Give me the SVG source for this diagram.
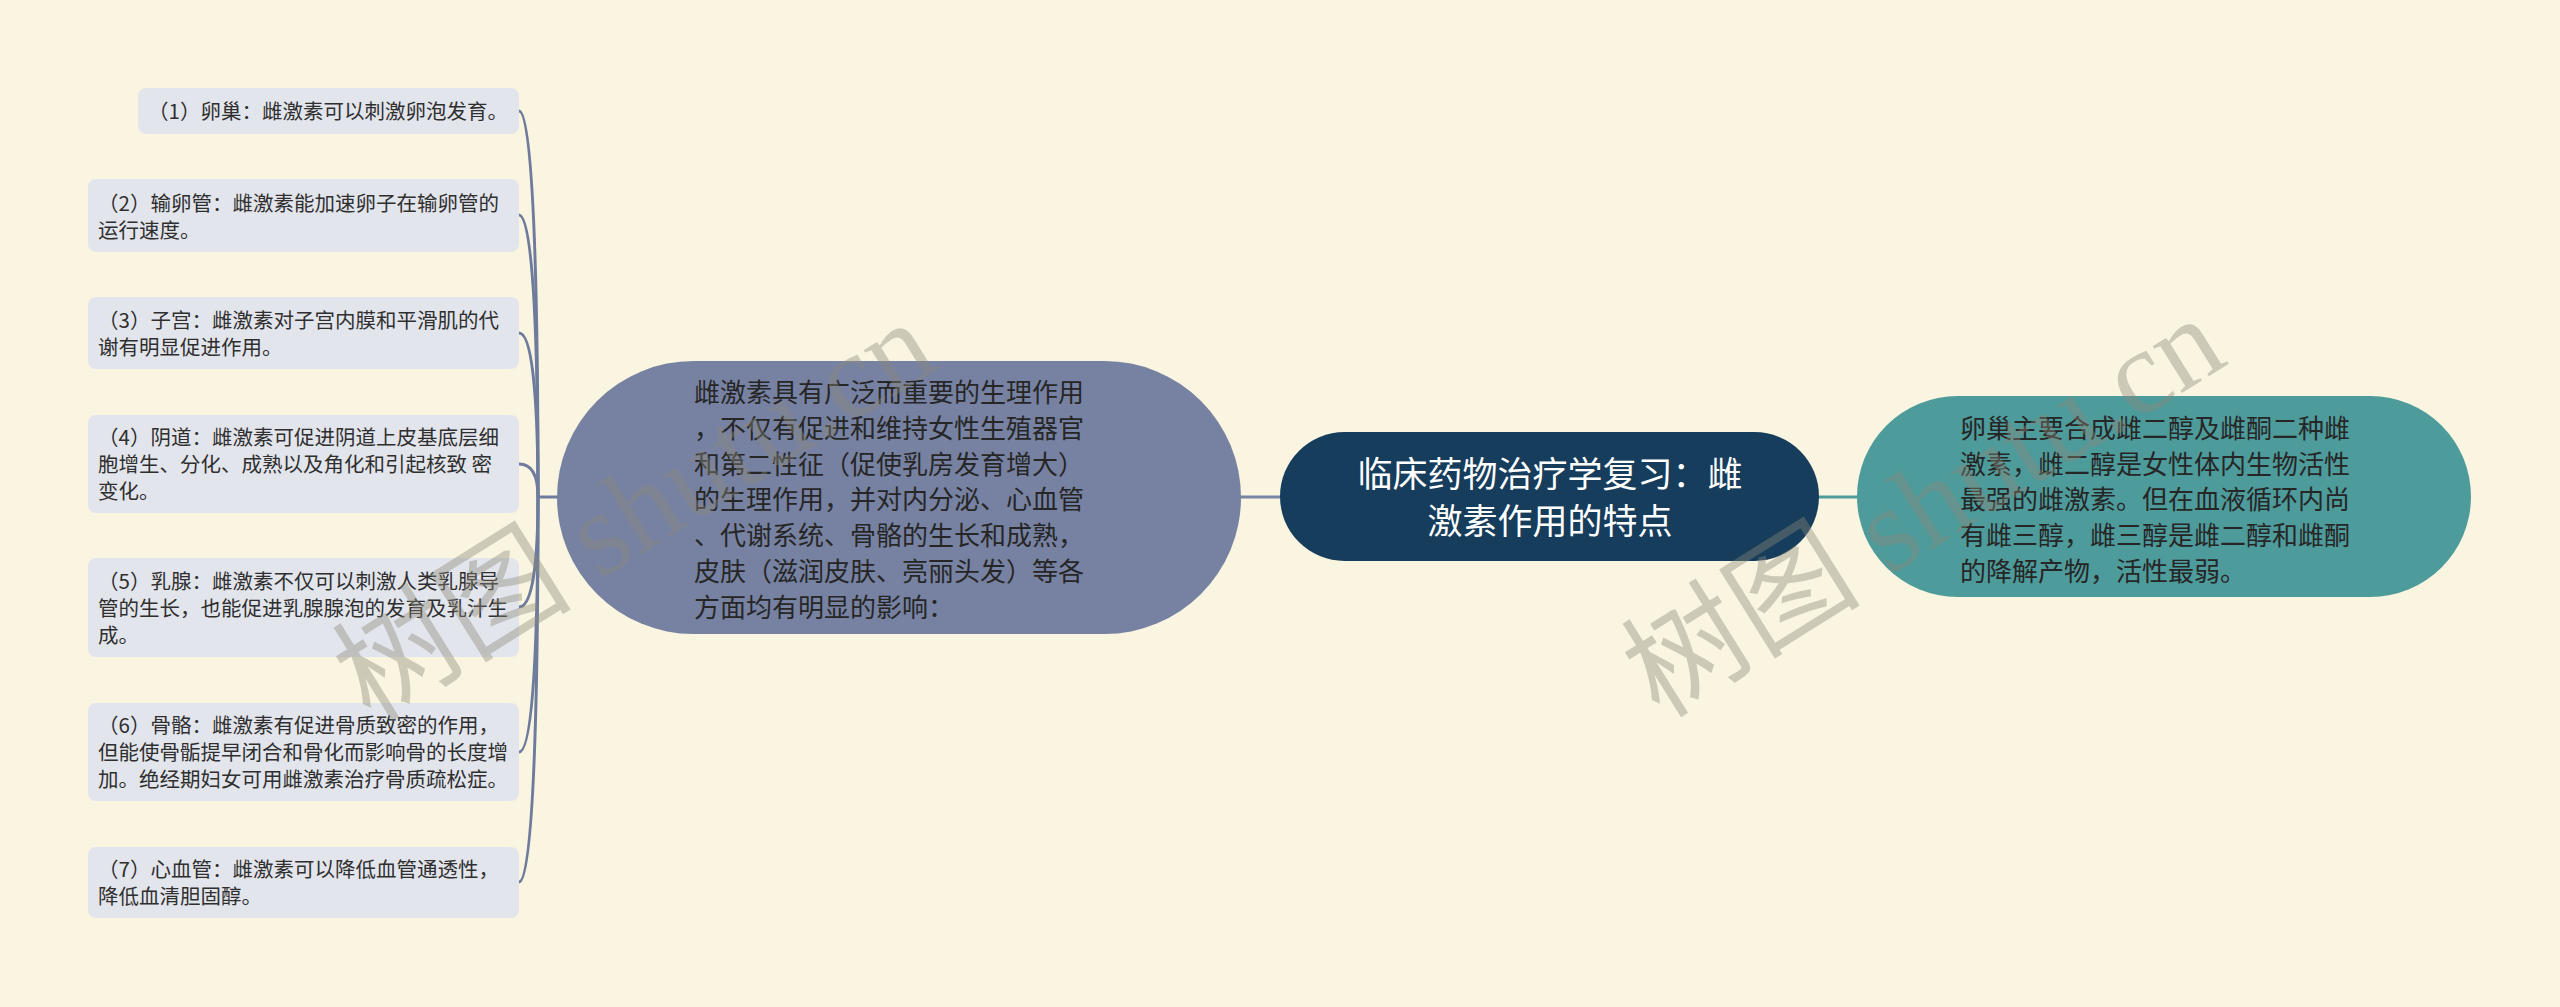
<svg xmlns="http://www.w3.org/2000/svg" width="2560" height="1007" viewBox="0 0 2560 1007">
<style>
.leaf rect{fill:#e3e5ec;}
.leaf text{font-family:"Noto Sans CJK SC","Noto Sans",sans-serif;font-size:20.5px;fill:#2f2f2f;}
.big{font-family:"Noto Sans CJK SC","Noto Sans",sans-serif;font-size:26px;fill:#262626;}
.title{font-family:"Noto Sans CJK SC","Noto Sans",sans-serif;font-size:35px;fill:#ffffff;}
.lc{fill:none;stroke:#6f7b9c;stroke-width:3;}
.wm{font-family:"Liberation Serif","Noto Sans CJK SC",serif;font-size:120px;fill:#8a887a;opacity:0.4;}
</style>
<rect x="0" y="0" width="2560" height="1007" fill="#faf5e0"/>
<g id="connectors">
<path class="lc" d="M558 497 L538 497"/>
<path class="lc" d="M538 497 C538 304 534 111 519 111"/>
<path class="lc" d="M538 497 C538 356 534 215 519 215"/>
<path class="lc" d="M538 497 C538 415 534 333 519 333"/>
<path class="lc" d="M538 497 C538 480 534 464 519 464"/>
<path class="lc" d="M538 497 C538 552 534 607 519 607"/>
<path class="lc" d="M538 497 C538 625 534 752 519 752"/>
<path class="lc" d="M538 497 C538 690 534 882 519 882"/>
<path d="M1241 497 L1280 497" fill="none" stroke="#7a84a5" stroke-width="3"/>
<path d="M1819 497 L1857 497" fill="none" stroke="#4e9b9b" stroke-width="3"/>
</g>
<g id="leaf1" class="leaf"><rect x="138" y="88" width="381" height="46" rx="8"/>
<text x="148" y="119">（1）卵巢：雌激素可以刺激卵泡发育。</text></g>
<g id="leaf2" class="leaf"><rect x="88" y="179" width="431" height="73" rx="8"/>
<text x="98" y="211">（2）输卵管：雌激素能加速卵子在输卵管的</text>
<text x="98" y="238">运行速度。</text></g>
<g id="leaf3" class="leaf"><rect x="88" y="297" width="431" height="72" rx="8"/>
<text x="98" y="328">（3）子宫：雌激素对子宫内膜和平滑肌的代</text>
<text x="98" y="355">谢有明显促进作用。</text></g>
<g id="leaf4" class="leaf"><rect x="88" y="415" width="431" height="98" rx="8"/>
<text x="98" y="445">（4）阴道：雌激素可促进阴道上皮基底层细</text>
<text x="98" y="472">胞增生、分化、成熟以及角化和引起核致 密</text>
<text x="98" y="499">变化。</text></g>
<g id="leaf5" class="leaf"><rect x="88" y="558" width="431" height="99" rx="8"/>
<text x="98" y="589">（5）乳腺：雌激素不仅可以刺激人类乳腺导</text>
<text x="98" y="616">管的生长，也能促进乳腺腺泡的发育及乳汁生</text>
<text x="98" y="643">成。</text></g>
<g id="leaf6" class="leaf"><rect x="88" y="703" width="431" height="98" rx="8"/>
<text x="98" y="733">（6）骨骼：雌激素有促进骨质致密的作用，</text>
<text x="98" y="760">但能使骨骺提早闭合和骨化而影响骨的长度增</text>
<text x="98" y="787">加。绝经期妇女可用雌激素治疗骨质疏松症。</text></g>
<g id="leaf7" class="leaf"><rect x="88" y="847" width="431" height="71" rx="8"/>
<text x="98" y="877">（7）心血管：雌激素可以降低血管通透性，</text>
<text x="98" y="904">降低血清胆固醇。</text></g>
<g id="effects">
<rect x="557" y="361" width="684" height="273" rx="136.5" fill="#7782a2"/>
<text class="big" x="694" y="402">雌激素具有广泛而重要的生理作用</text>
<text class="big" x="694" y="438">，不仅有促进和维持女性生殖器官</text>
<text class="big" x="694" y="474">和第二性征（促使乳房发育增大）</text>
<text class="big" x="694" y="509">的生理作用，并对内分泌、心血管</text>
<text class="big" x="694" y="545">、代谢系统、骨骼的生长和成熟，</text>
<text class="big" x="694" y="581">皮肤（滋润皮肤、亮丽头发）等各</text>
<text class="big" x="694" y="617">方面均有明显的影响：</text>
</g>
<g id="root">
<rect x="1280" y="432" width="539" height="129" rx="64.5" fill="#173d5c"/>
<text class="title" x="1550" y="487" text-anchor="middle">临床药物治疗学复习：雌</text>
<text class="title" x="1550" y="534" text-anchor="middle">激素作用的特点</text>
</g>
<g id="ovary">
<rect x="1857" y="396" width="614" height="201" rx="100.5" fill="#4e9b9b"/>
<text class="big" x="1960" y="438">卵巢主要合成雌二醇及雌酮二种雌</text>
<text class="big" x="1960" y="474">激素，雌二醇是女性体内生物活性</text>
<text class="big" x="1960" y="509">最强的雌激素。但在血液循环内尚</text>
<text class="big" x="1960" y="545">有雌三醇，雌三醇是雌二醇和雌酮</text>
<text class="big" x="1960" y="581">的降解产物，活性最弱。</text>
</g>
<g id="watermark">
<text class="wm" transform="translate(656,545) rotate(-32)" text-anchor="middle">树图 shutu.cn</text>
<text class="wm" transform="translate(1945,541) rotate(-32)" text-anchor="middle">树图 shutu.cn</text>
</g>
</svg>
